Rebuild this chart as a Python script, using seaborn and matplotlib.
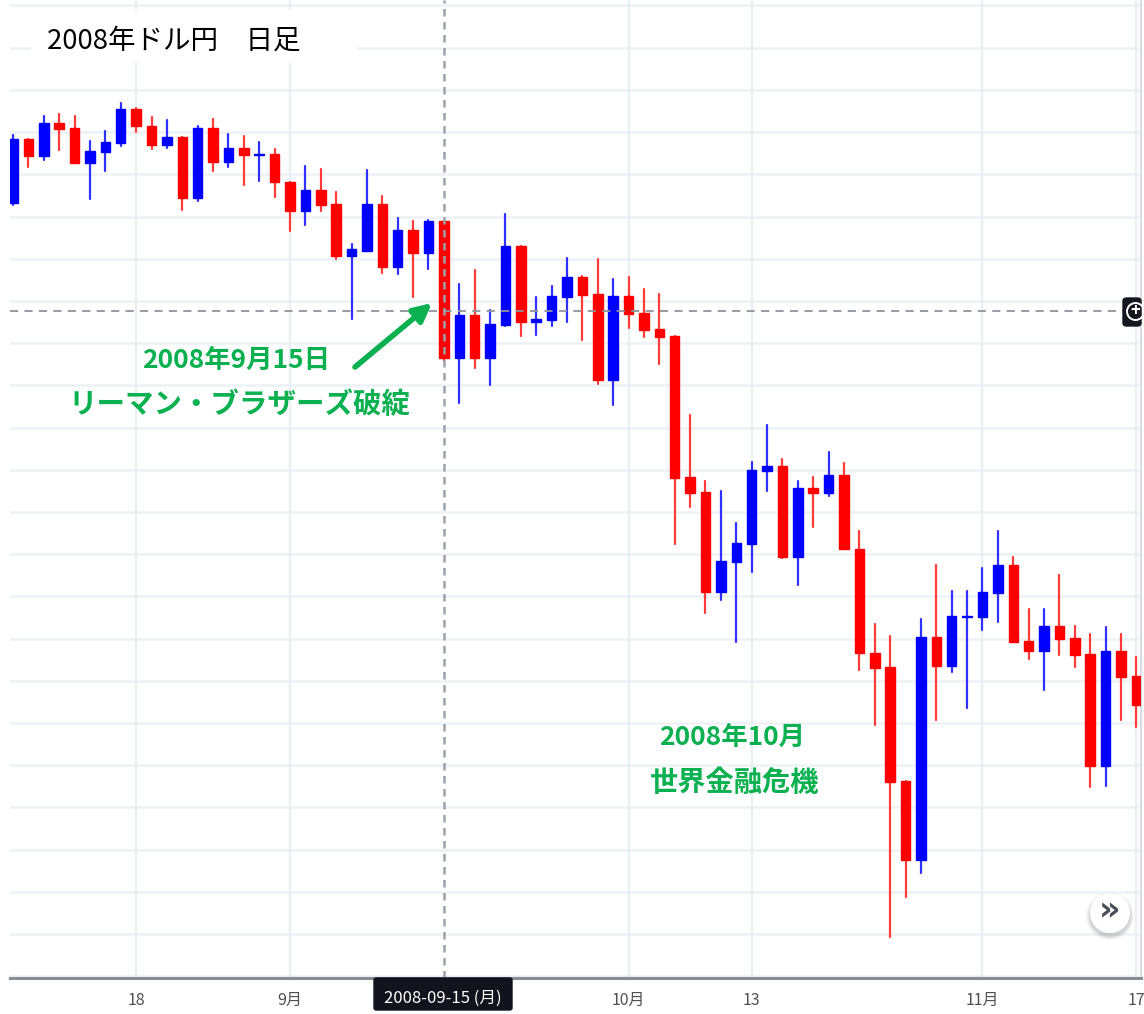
import pandas as pd
import numpy as np
import matplotlib
matplotlib.use('Agg')
import matplotlib.pyplot as plt
import seaborn as sns
from matplotlib.patches import Circle, FancyBboxPatch, Rectangle

# USD/JPY daily candles
opens = [108.32, 109.84, 109.44, 110.22, 110.10, 109.27, 109.53, 109.74, 110.55, 110.15,
         109.70, 109.89, 108.44, 110.10, 109.29, 109.63, 109.46, 109.48, 108.82, 108.13,
         108.63, 108.30, 107.07, 107.19, 108.30, 106.81, 107.68, 107.14, 107.90, 104.65,
         105.67, 104.65, 105.43, 107.30, 105.50, 105.55, 106.10, 106.57, 106.17, 104.13,
         106.12, 105.72, 105.34, 105.17, 101.83, 101.47, 99.10, 99.82, 100.24, 101.97,
         102.09, 99.93, 101.57, 101.45, 101.88, 100.12, 97.66, 97.33, 94.63, 92.75,
         98.04, 97.35, 98.51, 98.51, 99.08, 99.74, 97.94, 97.71, 98.30, 98.01,
         97.64, 94.98, 97.71, 97.11]
highs = [109.93, 109.84, 110.38, 110.43, 110.38, 109.79, 110.03, 110.69, 110.57, 110.36,
         110.29, 109.89, 110.15, 110.31, 109.96, 109.91, 109.77, 109.60, 108.82, 109.20,
         109.13, 108.58, 107.35, 109.10, 108.49, 107.97, 107.90, 107.92, 107.90, 106.40,
         106.73, 105.79, 108.06, 107.30, 106.10, 106.36, 107.02, 106.59, 107.00, 106.52,
         106.57, 106.28, 106.17, 105.17, 103.30, 101.74, 101.50, 100.74, 102.19, 103.06,
         102.26, 101.74, 101.83, 102.42, 102.16, 100.55, 98.35, 98.06, 94.63, 98.47,
         99.74, 99.13, 99.13, 99.67, 100.55, 99.93, 98.70, 98.70, 99.51, 98.30,
         98.11, 98.27, 98.11, 97.56]
lows = [108.27, 109.18, 109.34, 109.58, 109.27, 108.42, 109.08, 109.67, 110.00, 109.60,
        109.63, 108.16, 108.37, 109.08, 109.18, 108.75, 108.84, 108.47, 107.66, 107.80,
        108.13, 107.00, 105.57, 107.19, 106.66, 106.64, 106.10, 106.76, 104.58, 103.58,
        104.41, 104.01, 105.41, 105.17, 105.19, 105.41, 105.50, 105.08, 104.03, 103.54,
        105.36, 105.15, 104.51, 100.24, 101.12, 98.61, 98.92, 97.92, 99.58, 101.50,
        99.91, 99.27, 100.64, 101.38, 100.12, 97.26, 95.95, 90.93, 91.88, 92.45,
        96.07, 97.21, 96.36, 98.20, 98.39, 97.92, 97.52, 96.78, 97.61, 97.33,
        94.48, 94.51, 96.07, 95.91]
closes = [109.84, 109.44, 110.22, 110.08, 109.27, 109.55, 109.77, 110.55, 110.15, 109.70,
          109.89, 108.44, 110.10, 109.29, 109.63, 109.46, 109.48, 108.82, 108.13, 108.63,
          108.27, 107.07, 107.23, 108.30, 106.81, 107.68, 107.14, 107.90, 104.65, 105.67,
          104.65, 105.46, 107.30, 105.50, 105.57, 106.12, 106.57, 106.14, 104.13, 106.12,
          105.69, 105.31, 105.15, 101.81, 101.45, 99.10, 99.84, 100.27, 102.00, 102.09,
          99.93, 101.57, 101.45, 101.88, 100.12, 97.66, 97.30, 94.60, 92.75, 98.04,
          97.35, 98.54, 98.54, 99.10, 99.74, 97.92, 97.71, 98.30, 97.99, 97.61,
          94.98, 97.71, 97.09, 96.43]

tick_dates = ['2008-08-18', '2008-09-01', '2008-10-01', '2008-10-13', '2008-11-03', '2008-11-17']
tick_labels = ['18', '9月', '10月', '13', '11月', '17']
grid_prices = list(range(90, 114))
crash_date = '2008-09-15'
crash_label = '2008-09-15 (月)'
cursor_price = 105.76

dates = pd.bdate_range('2008-08-06', periods=len(opens))
df = pd.DataFrame({'date': dates, 'open': opens, 'high': highs, 'low': lows, 'close': closes})
df['i'] = np.arange(len(df))
df['up'] = df['close'] > df['open']
df['body_low'] = df[['open', 'close']].min(axis=1)
df['body_h'] = (df['open'] - df['close']).abs()

sns.set_theme(style='white')
plt.rcParams['font.family'] = ['Noto Sans CJK JP', 'DejaVu Sans']

W, H = 1144, 1014
fig = plt.figure(figsize=(W / 100, H / 100), dpi=100)
ax = fig.add_axes([10 / W, (H - 978) / H, 1131 / W, 978 / H])
fig_px = fig.transFigure


def fx(px):
    return px / W


def fy(py):
    return 1 - py / H


# Light chart grid
for p in grid_prices:
    ax.axhline(p, color='#edf2f6', lw=1.8, zorder=0)
idx_of = {d: i for i, d in zip(df['i'], df['date'])}
tick_pos = [idx_of[pd.Timestamp(d)] for d in tick_dates]
for t in tick_pos:
    ax.axvline(t, color='#e8eff4', lw=1.6, zorder=0)

# Wicks
long_df = df.melt(id_vars=['i', 'up'], value_vars=['high', 'low'], value_name='price')
sns.lineplot(data=long_df, x='i', y='price', hue='up', units='i', estimator=None,
             palette={True: '#3030ff', False: '#ff3c3c'}, lw=1.6, legend=False,
             ax=ax, zorder=2)

# Bodies
for up, col in [(True, '#0000ff'), (False, '#ff0000')]:
    part = df[df['up'] == up]
    sns.barplot(data=part, x='i', y='body_h', bottom=part['body_low'].values, native_scale=True,
                color=col, saturation=1, width=0.62, edgecolor=col, linewidth=1.0,
                ax=ax, zorder=3, errorbar=None)

ax.set_xlim(-0.195, 73.3)
ax.set_ylim(89.96, 113.13)

# Crosshair
crash_i = idx_of[pd.Timestamp(crash_date)]
ax.axhline(cursor_price, color='#8f939c', lw=1.3, ls=(0, (4.5, 3.5)), zorder=4)
ax.axvline(crash_i, color='#9ca1aa', lw=1.8, ls=(0, (3, 2.2)), zorder=4)

# Axis
for s in ['top', 'left']:
    ax.spines[s].set_visible(False)
ax.spines['bottom'].set_color('#8a8d93')
ax.spines['bottom'].set_linewidth(2.2)
ax.spines['right'].set_color('#d9dde1')
ax.spines['right'].set_linewidth(1.5)
ax.set_xticks(tick_pos)
ax.set_xticklabels(tick_labels, fontsize=11.5, color='#505050')
ax.tick_params(axis='x', length=0, pad=10)
ax.set_yticks([])
ax.set_xlabel('')
ax.set_ylabel('')

# Title with its white patch
fig.add_artist(Rectangle((fx(31), fy(63)), 327 / W, 53 / H, transform=fig_px, facecolor='white',
                         edgecolor='none', zorder=5))
fig.text(fx(47), fy(41), '2008年ドル円\u3000日足', fontsize=19.8, color='black', va='center', ha='left', zorder=6)

# Annotations
green = '#0bb050'
fig.text(fx(236), fy(360), '2008年9月15日', fontsize=19, fontweight='bold', color=green, ha='center', va='center', zorder=6)
fig.text(fx(239), fy(405), 'リーマン・ブラザーズ破綻', fontsize=20.5, fontweight='bold', color=green, ha='center', va='center', zorder=6)
fig.text(fx(732), fy(737), '2008年10月', fontsize=19, fontweight='bold', color=green, ha='center', va='center', zorder=6)
fig.text(fx(735), fy(783), '世界金融危機', fontsize=20.3, fontweight='bold', color=green, ha='center', va='center', zorder=6)
ax.annotate('', xy=(fx(432), fy(303)), xytext=(fx(355), fy(367)),
            xycoords='figure fraction', textcoords='figure fraction',
            arrowprops=dict(arrowstyle='-|>,head_length=0.9,head_width=0.45', color=green, lw=4,
                            shrinkA=0, shrinkB=0), zorder=6)

# Date tag under the axis
fig.add_artist(FancyBboxPatch((fx(374), fy(1010)), 138 / W, 32 / H, boxstyle='round,pad=0,rounding_size=0.002',
                              transform=fig_px, facecolor='#11141c', edgecolor='#11141c', zorder=6))
fig.text(fx(443), fy(998), crash_label, fontsize=12, color='white', ha='center', va='center', zorder=7)

# Crosshair plus button on the right edge
fig.add_artist(FancyBboxPatch((fx(1123), fy(326)), 18 / W, 28 / H, boxstyle='round,pad=0,rounding_size=0.003',
                              transform=fig_px, facecolor='#14171f', edgecolor='#14171f', zorder=6))
fig.add_artist(Circle((1135.5 / 100, (H - 311.5) / 100), 8.5 / 100, transform=fig.dpi_scale_trans,
                      facecolor='none', edgecolor='white', lw=1.4, zorder=7))
fig.text(fx(1135.5), fy(310.5), '+', fontsize=12, fontweight='bold', color='white', ha='center', va='center', zorder=8)

# Scroll button with a soft shadow
for r, a in [(24, 0.04), (22.5, 0.06), (21, 0.08)]:
    fig.add_artist(Circle((1110 / 100, (H - 916) / 100), r / 100, transform=fig.dpi_scale_trans,
                          facecolor='black', alpha=a, edgecolor='none', zorder=6))
fig.add_artist(Circle((1110 / 100, (H - 913) / 100), 20 / 100, transform=fig.dpi_scale_trans,
                      facecolor='white', edgecolor='none', zorder=6))
fig.text(fx(1110), fy(911), '»', fontsize=24, fontweight='bold', color='#4a4e59', ha='center', va='center',
         family='DejaVu Sans', zorder=7)

fig.savefig('out.png', dpi=100, facecolor='white')
